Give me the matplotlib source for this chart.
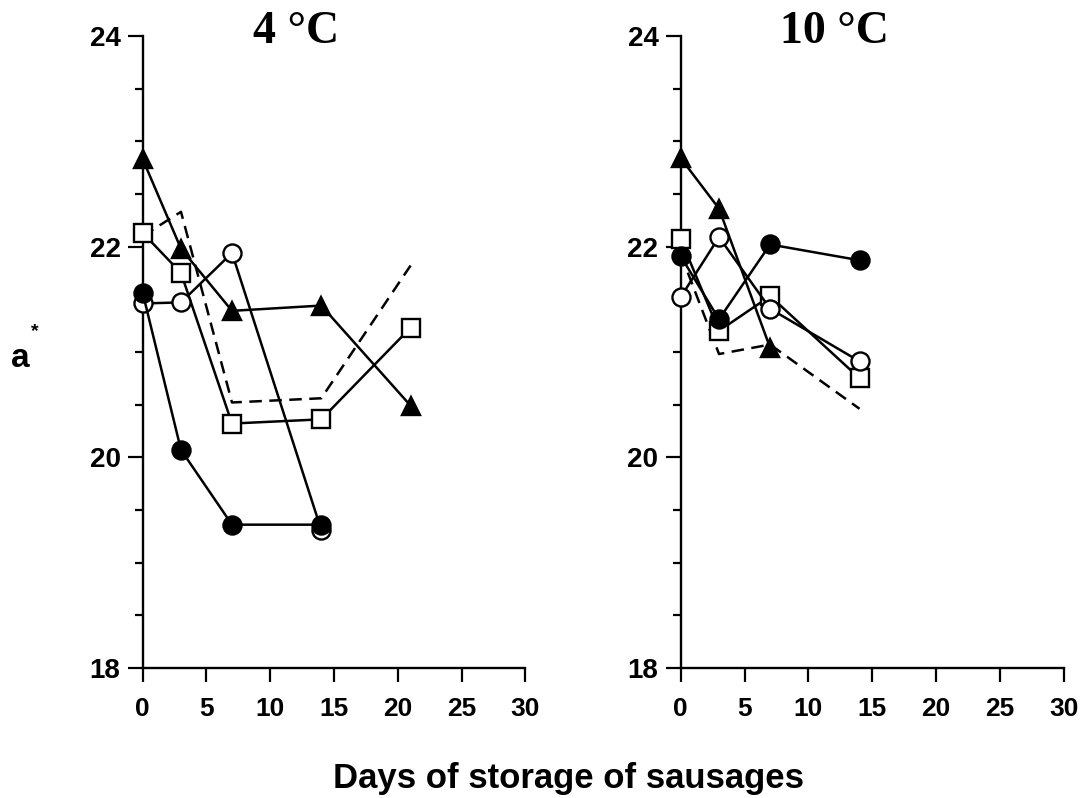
import matplotlib
matplotlib.use("Agg")
import matplotlib.pyplot as plt
from matplotlib.ticker import MultipleLocator

plt.rcParams["font.family"] = ["Liberation Sans", "DejaVu Sans"]

# ---------------------------------------------------------------- data
# 4 °C panel
days_4 = [0, 3, 7, 14, 21]
tri_4 = [22.83, 21.98, 21.39, 21.44, 20.49]
sq_4 = [22.13, 21.75, 20.32, 20.36, 21.23]
dash_4 = [22.10, 22.33, 20.52, 20.56, 21.82]
oc_4_days = [0, 3, 7, 14]
oc_4 = [21.46, 21.47, 21.94, 19.31]
fc_4_days = [0, 3, 7, 14]
fc_4 = [21.56, 20.07, 19.36, 19.36]

# 10 °C panel
days_10 = [0, 3, 7, 14]
tri_10_days = [0, 3, 7]
tri_10 = [22.84, 22.36, 21.04]
sq_10 = [22.07, 21.20, 21.53, 20.75]
dash_10 = [21.93, 20.98, 21.07, 20.46]
oc_10 = [21.52, 22.09, 21.41, 20.91]
fc_10 = [21.91, 21.31, 22.02, 21.87]

titles = ["4 °C", "10 °C"]
xticks = [0, 5, 10, 15, 20, 25, 30]
yticks = [18, 20, 22, 24]

LW = 1.8
MS = 13
DASH = (0, (5, 3))


def style(ax):
    ax.set_xlim(0, 30)
    ax.set_ylim(18, 24)
    ax.spines["top"].set_visible(False)
    ax.spines["right"].set_visible(False)
    for s in ("left", "bottom"):
        ax.spines[s].set_linewidth(1.7)
    ax.set_xticks(xticks)
    ax.set_yticks(yticks)
    ax.yaxis.set_minor_locator(MultipleLocator(0.5))
    ax.tick_params(axis="y", which="major", length=11, width=1.6, labelsize=20, pad=5)
    ax.tick_params(axis="y", which="minor", length=6, width=1.6)
    ax.tick_params(axis="x", which="major", length=10, width=1.6, labelsize=19, pad=11)
    for lab in ax.get_xticklabels() + ax.get_yticklabels():
        lab.set_fontweight("bold")


def series(ax, x, y, marker, fill):
    ax.plot(x, y, color="black", lw=LW, marker=marker, ms=MS,
            mfc=fill, mec="black", mew=1.7, clip_on=False, zorder=3)


fig = plt.figure(figsize=(10.87, 7.98), dpi=100)
ax1 = fig.add_axes([0.1313, 0.163, 0.352, 0.792])
ax2 = fig.add_axes([0.6262, 0.163, 0.3526, 0.792])

# left panel
ax1.plot(days_4, dash_4, color="black", lw=LW, ls=DASH, zorder=2)
series(ax1, days_4, sq_4, "s", "white")
series(ax1, oc_4_days, oc_4, "o", "white")
series(ax1, fc_4_days, fc_4, "o", "black")
series(ax1, days_4, tri_4, "^", "black")

# right panel
ax2.plot(days_10, dash_10, color="black", lw=LW, ls=DASH, zorder=2)
series(ax2, days_10, sq_10, "s", "white")
series(ax2, days_10, oc_10, "o", "white")
series(ax2, days_10, fc_10, "o", "black")
series(ax2, tri_10_days, tri_10, "^", "black")

for ax, t in zip((ax1, ax2), titles):
    style(ax)
    ax.text(12, 24.04, t, ha="center", va="center", fontsize=33,
            fontweight="bold", family="Liberation Serif", clip_on=False)

fig.text(0.019, 0.551, "a", ha="center", va="center", fontsize=24, fontweight="bold")
fig.text(0.032, 0.584, "*", ha="center", va="center", fontsize=14, fontweight="bold")
fig.text(0.523, 0.025, "Days of storage of sausages", ha="center", va="center",
         fontsize=25, fontweight="bold")

fig.savefig("out.png", dpi=100)
